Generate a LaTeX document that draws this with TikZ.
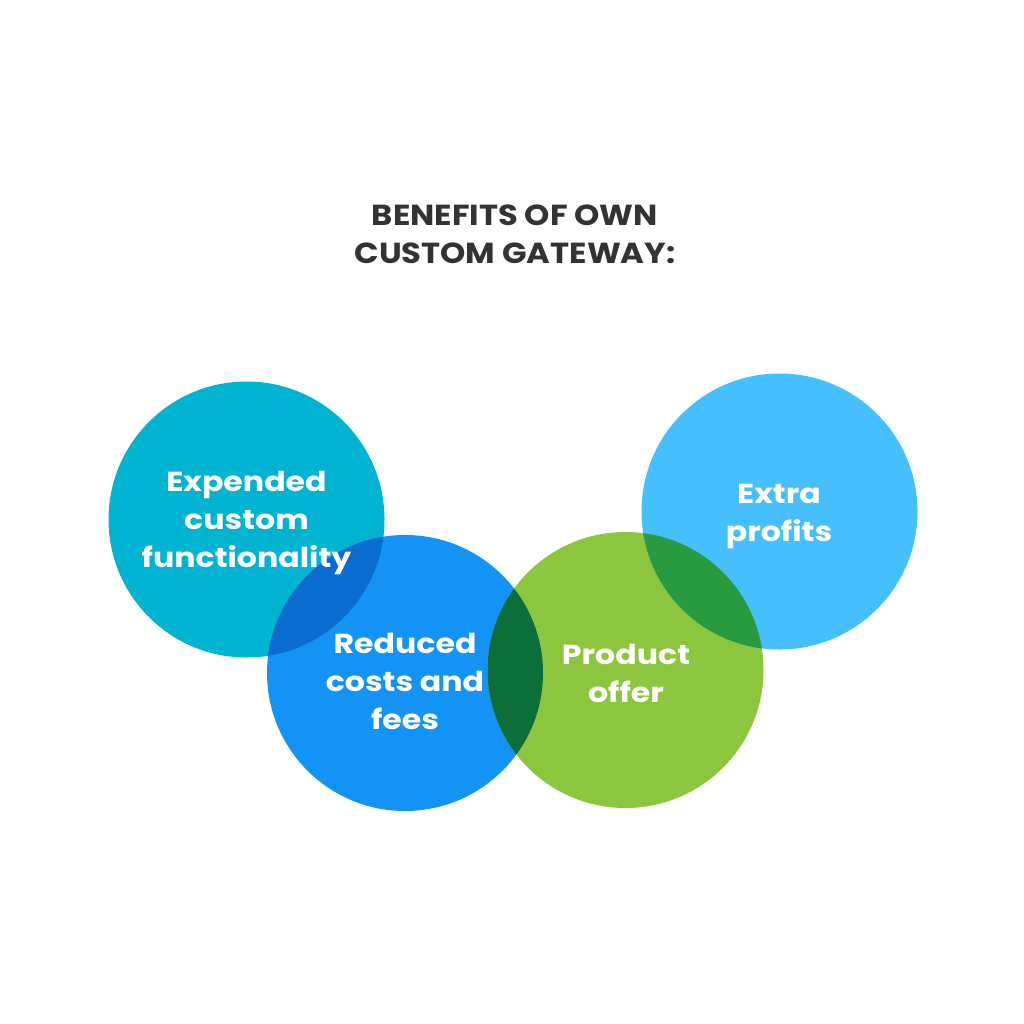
\documentclass[tikz,border=0pt]{standalone}
\usepackage{fontspec}
\setmainfont{Poppins}
\newfontfamily\lblfont{Poppins}[FakeStretch=1.15]
\newfontfamily\ttlfont{Poppins}[FakeStretch=1.11]
\definecolor{cteal}{HTML}{00B4D1}
\definecolor{cblue}{HTML}{1493F7}
\definecolor{cgreen}{HTML}{8CC63F}
\definecolor{clight}{HTML}{46BFFD}
\definecolor{ctb}{HTML}{0A6BD0}
\definecolor{cbg}{HTML}{0C6F39}
\definecolor{cgl}{HTML}{299A3F}
\definecolor{ctitle}{HTML}{333333}
\begin{document}
\begin{tikzpicture}[x=1pt,y=-1pt,
  disc/.style={circle,inner sep=0pt,minimum size=276pt},
  lbl/.style={text=white,font=\lblfont\fontsize{27.5}{38}\selectfont\bfseries,align=center,anchor=base},
  ttl/.style={text=ctitle,font=\ttlfont\fontsize{29}{38}\selectfont\bfseries,align=center,anchor=base}]
\useasboundingbox[fill=white] (0,0) rectangle (1024,1024);
\node[disc,fill=cteal] (c1) at (246.5,519.5) {};
\node[disc,fill=cblue] (c2) at (405,673) {};
\node[disc,fill=cgreen] (c3) at (625.5,670) {};
\node[disc,fill=clight] (c4) at (779.5,511.5) {};
\begin{scope}
  \clip (c1.center) circle (138pt);
  \fill[ctb] (c2.center) circle (138pt);
\end{scope}
\begin{scope}
  \clip (c2.center) circle (138pt);
  \fill[cbg] (c3.center) circle (138pt);
\end{scope}
\begin{scope}
  \clip (c3.center) circle (138pt);
  \fill[cgl] (c4.center) circle (138pt);
\end{scope}
\node[ttl] (title) at (515,263) {BENEFITS OF OWN\\CUSTOM GATEWAY:};
\node[lbl] (t1) at (246.5,567) {Expended\\custom\\functionality};
\node[lbl] (t2) at (405,729) {Reduced\\costs and\\fees};
\node[lbl] (t3) at (626,702) {Product\\offer};
\node[lbl] (t4) at (779,541) {Extra\\profits};
\end{tikzpicture}
\end{document}
